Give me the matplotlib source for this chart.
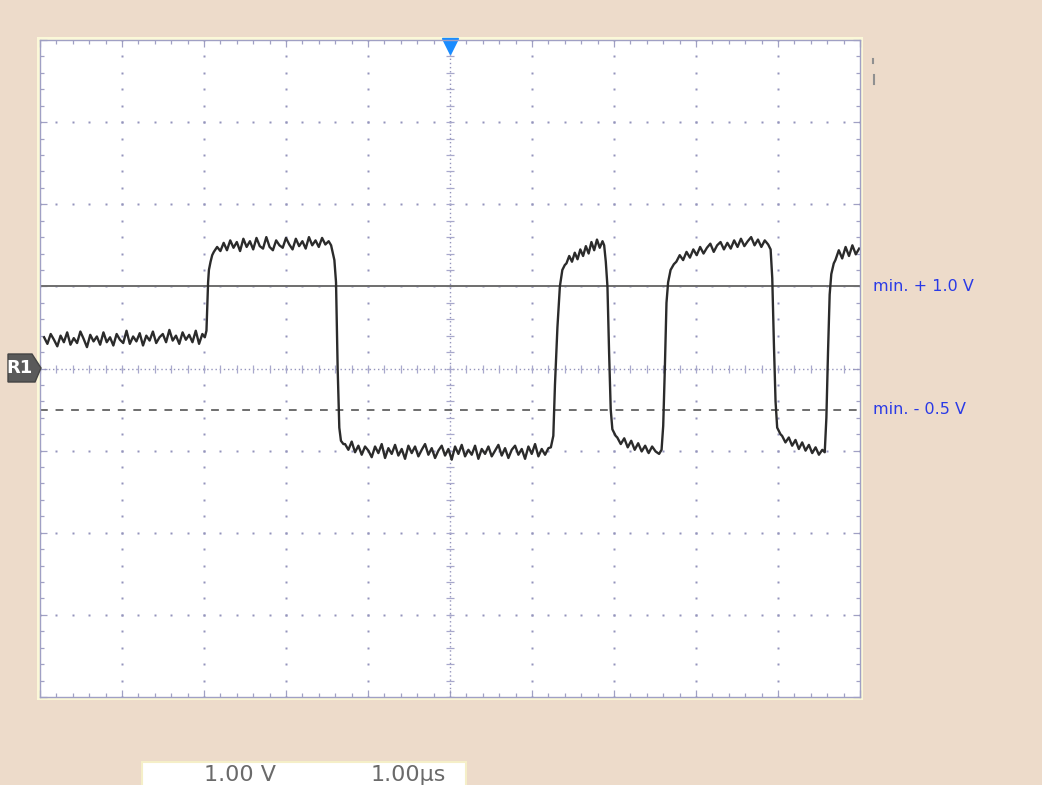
import numpy as np
import matplotlib
matplotlib.use("Agg")
import matplotlib.pyplot as plt
from matplotlib.patches import Polygon, Rectangle

# scope settings (1 V/div, 1 us/div), ground at centre
volts_per_div = 1.00
time_per_div = 1.00
level_hi = 1.0     # solid marker line "min. + 1.0 V"
level_lo = -0.5    # dashed marker line "min. - 0.5 V"

# flat (noisy) parts of the trace: start/end time in us and sample values in V
plat_start = [0.05, 2.12, 3.72, 6.42, 7.04, 7.76, 9.05, 9.70]
plat_end = [1.98, 3.52, 6.20, 6.86, 7.55, 8.88, 9.54, 9.99]
seg1 = [0.38, 0.30, 0.42, 0.35, 0.27, 0.40, 0.32, 0.44, 0.29, 0.37, 0.31, 0.45, 0.36, 0.26,
        0.41, 0.33, 0.39, 0.29, 0.44, 0.32, 0.38, 0.28, 0.42, 0.35, 0.31, 0.46, 0.30, 0.39,
        0.33, 0.43, 0.28, 0.40, 0.34, 0.45, 0.31, 0.38, 0.42, 0.32, 0.47, 0.34, 0.40, 0.30,
        0.44, 0.35, 0.41, 0.32, 0.46, 0.30, 0.42]
seg2 = [1.42, 1.48, 1.43, 1.53, 1.44, 1.56, 1.47, 1.54, 1.43, 1.58, 1.48, 1.55, 1.45, 1.59,
        1.49, 1.46, 1.60, 1.48, 1.44, 1.56, 1.50, 1.47, 1.59, 1.51, 1.45, 1.58, 1.49, 1.55,
        1.46, 1.60, 1.50, 1.56, 1.48, 1.59, 1.51, 1.55]
seg3 = [-0.92, -0.99, -0.89, -1.02, -0.94, -1.05, -0.95, -1.00, -1.08, -0.95, -1.03, -0.92,
        -1.09, -0.97, -1.04, -0.93, -1.06, -0.98, -1.10, -0.94, -1.03, -0.95, -1.07, -0.99,
        -0.92, -1.05, -0.97, -1.09, -1.00, -0.94, -1.06, -0.98, -1.11, -0.95, -1.04, -0.93,
        -1.07, -0.99, -1.05, -0.94, -1.10, -0.98, -1.04, -0.95, -1.07, -1.00, -0.93, -1.06,
        -0.97, -1.09, -0.99, -0.94, -1.05, -0.98, -1.10, -0.95, -1.04, -0.92, -1.07, -0.98,
        -1.05, -0.97]
seg4 = [1.28, 1.37, 1.30, 1.41, 1.33, 1.45, 1.37, 1.49, 1.40, 1.54, 1.44, 1.57, 1.47, 1.55]
seg5 = [-0.84, -0.92, -0.85, -0.96, -0.88, -0.99, -0.91, -1.01, -0.94, -1.03, -0.95, -1.01,
        -1.04]
seg6 = [1.30, 1.38, 1.32, 1.42, 1.35, 1.45, 1.38, 1.48, 1.40, 1.47, 1.52, 1.42, 1.50, 1.54,
        1.45, 1.53, 1.46, 1.56, 1.48, 1.58, 1.49, 1.55, 1.60, 1.50, 1.57, 1.48, 1.56, 1.51]
seg7 = [-0.82, -0.90, -0.84, -0.94, -0.87, -0.98, -0.90, -1.00, -0.93, -1.03, -0.96, -1.05,
        -0.99]
seg8 = [1.32, 1.44, 1.34, 1.48, 1.37, 1.50, 1.39, 1.46]
plat_vals = [seg1, seg2, seg3, seg4, seg5, seg6, seg7, seg8]

# edges between the flat parts (time us, value V)
edge_t = [[2.01, 2.03, 2.04, 2.05, 2.06, 2.08, 2.10],
          [3.55, 3.59, 3.61, 3.63, 3.65, 3.67, 3.70],
          [6.23, 6.26, 6.28, 6.31, 6.34, 6.37, 6.40],
          [6.88, 6.90, 6.92, 6.94, 6.96, 6.98, 7.02],
          [7.58, 7.60, 7.62, 7.64, 7.66, 7.69, 7.73],
          [8.91, 8.93, 8.95, 8.97, 8.99, 9.03],
          [9.57, 9.59, 9.61, 9.63, 9.65, 9.68]]
edge_v = [[0.38, 0.46, 0.75, 1.05, 1.20, 1.30, 1.38],
          [1.50, 1.32, 1.05, 0.00, -0.72, -0.88, -0.92],
          [-0.96, -0.82, -0.20, 0.50, 1.00, 1.20, 1.26],
          [1.50, 1.30, 1.00, 0.20, -0.50, -0.74, -0.82],
          [-0.99, -0.70, 0.00, 0.80, 1.05, 1.20, 1.27],
          [1.45, 1.10, 0.30, -0.40, -0.72, -0.80],
          [-1.02, -0.60, 0.20, 0.90, 1.15, 1.28]]

trace_t = []
trace_v = []
for i in range(len(plat_vals)):
    trace_t += list(np.linspace(plat_start[i], plat_end[i], len(plat_vals[i])))
    trace_v += plat_vals[i]
    if i < len(edge_t):
        trace_t += edge_t[i]
        trace_v += edge_v[i]
trace_t = np.array(trace_t) / time_per_div
trace_v = np.array(trace_v) / volts_per_div

W, H = 1042, 785
bg = '#eddbca'
grid_col = '#9494bc'
fig = plt.figure(figsize=(W / 100, H / 100), dpi=100, facecolor=bg)

# screen area in pixels
x0, y0, x1, y1 = 40, 40, 860, 697
ax = fig.add_axes([x0 / W, 1 - y1 / H, (x1 - x0) / W, (y1 - y0) / H])
ax.set_xlim(0, 10)
ax.set_ylim(-4, 4)
ax.set_facecolor('white')

# yellowish frame round the screen
fig.patches.append(Rectangle(((x0 - 3) / W, 1 - (y1 + 3) / H), (x1 - x0 + 6) / W,
                             (y1 - y0 + 6) / H, transform=fig.transFigure,
                             facecolor='#fbf8d8', edgecolor='none', zorder=-1))

# dotted graticule
fine = np.arange(0, 10.01, 0.2)
fine_y = np.arange(-4, 4.01, 0.2)
for gx in range(1, 10):
    if gx == 5:
        continue
    ax.plot(np.full(len(fine_y), gx), fine_y, ls='none', marker='s', ms=1.5,
            mec='none', mfc=grid_col)
for gy in range(-3, 4):
    if gy == 0:
        continue
    ax.plot(fine, np.full(len(fine), gy), ls='none', marker='s', ms=1.5,
            mec='none', mfc=grid_col)

# centre lines with small ticks
ax.axvline(5, color=grid_col, lw=1.0, ls=(0, (1, 2)))
ax.axhline(0, color=grid_col, lw=1.0, ls=(0, (1, 2)))
ax.plot(np.full(len(fine_y), 5), fine_y, ls='none', marker='_', ms=6, mew=0.9,
        color='#a8a8cc')
ax.plot(fine, np.zeros(len(fine)), ls='none', marker='|', ms=6, mew=0.9, color='#a8a8cc')

# border ticks
ax.set_xticks(range(0, 11))
ax.set_yticks(range(-4, 5))
ax.set_xticks(fine, minor=True)
ax.set_yticks(fine_y, minor=True)
ax.tick_params(which='both', direction='in', top=True, right=True, color='#a0a0c4',
               labelbottom=False, labelleft=False, width=0.9)
ax.tick_params(which='major', length=5)
ax.tick_params(which='minor', length=3)
for s in ax.spines.values():
    s.set_color('#a0a0c4')
    s.set_linestyle((0, (1, 1)))
    s.set_linewidth(1.0)

# level lines
ax.axhline(level_hi, color='#6e6e6e', lw=1.4)
ax.axhline(level_lo, color='#6e6e6e', lw=1.4, ls=(0, (4, 4)))

# waveform
ax.plot(trace_t, trace_v, color='#2b2b2b', lw=1.7)

# trigger marker
ax.plot([5], [3.93], marker='v', ms=11, color='#1a8cff', mec='#1a8cff', clip_on=False)

# level labels
ax.text(1.016, level_hi, 'min. + 1.0 V', transform=ax.get_yaxis_transform(),
        color='#2a3ae6', fontsize=11.5, va='center', ha='left')
ax.text(1.016, level_lo, 'min. - 0.5 V', transform=ax.get_yaxis_transform(),
        color='#2a3ae6', fontsize=11.5, va='center', ha='left')

# R1 reference marker
def px(x, y):
    return (x / W, 1 - y / H)

r1 = Polygon([px(8, 354), px(32, 354), px(41, 368), px(35, 382), px(8, 382)],
             closed=True, transform=fig.transFigure, facecolor='#5a5a5a', edgecolor='#444444')
fig.patches.append(r1)
fig.text(20 / W, 1 - 368 / H, 'R1', color='white', fontsize=13, ha='center', va='center',
         fontweight='bold', family='Liberation Sans Narrow')

# small marks at the right
fig.lines.append(plt.Line2D([873 / W, 873 / W], [1 - 59 / H, 1 - 63 / H],
                            transform=fig.transFigure, color='#909090', lw=1.5))
fig.lines.append(plt.Line2D([874 / W, 874 / W], [1 - 75 / H, 1 - 84 / H],
                            transform=fig.transFigure, color='#909090', lw=1.5))

# scale readout box at the bottom
fig.patches.append(Rectangle(px(142, 790), 324 / W, 28 / H, transform=fig.transFigure,
                             facecolor='white', edgecolor='#f5efc8', lw=1.5))
fig.text(240 / W, 1 - 765 / H, '%.2f V' % volts_per_div, color='#6a6a6a', fontsize=16,
         ha='center', va='top')
fig.text(408 / W, 1 - 765 / H, '%.2f\u00b5s' % time_per_div, color='#6a6a6a', fontsize=16,
         ha='center', va='top')

fig.savefig('out.png', dpi=100, facecolor=bg)
